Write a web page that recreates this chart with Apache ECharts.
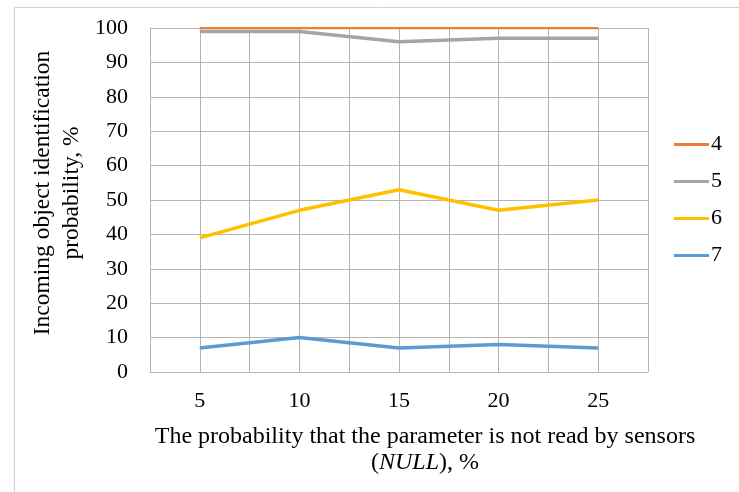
<!DOCTYPE html>
<html>
<head>
<meta charset="utf-8">
<script src="https://cdn.jsdelivr.net/npm/echarts@6/dist/echarts.min.js"></script>
<style>html,body{margin:0;padding:0;background:#fff}#c{width:739px;height:492px}</style>
</head>
<body>
<div id="c"></div>
<script>
var categories = [5, 10, 15, 20, 25];
var seriesNames = ['4', '5', '6', '7'];
var s4 = [100, 100, 100, 100, 100];
var s5 = [99, 99, 96, 97, 97];
var s6 = [39, 47, 53, 47, 50];
var s7 = [7, 10, 7, 8, 7];
var yTicks = [0, 10, 20, 30, 40, 50, 60, 70, 80, 90, 100];

var FONT = "'Liberation Serif', 'Times New Roman', serif";
var colors = ['#ED7D31', '#A5A5A5', '#FFC000', '#5B9BD5'];
var widths = [2.25, 3.5, 3.5, 3.5];
var allVals = [s4, s5, s6, s7];

function pairs(vals) { return categories.map(function (c, i) { return [c, vals[i]]; }); }

var chart = echarts.init(document.getElementById('c'), null, { renderer: 'canvas' });
var gridColor = '#b4b4b4';
chart.setOption({
  animation: false,
  backgroundColor: '#fff',
  grid: { left: 150, right: 91, top: 28, bottom: 120, containLabel: false },
  xAxis: {
    type: 'value', min: 2.5, max: 27.5, interval: 2.5,
    axisLine: { show: true, lineStyle: { color: gridColor, width: 1 } },
    axisTick: { show: false },
    splitLine: { show: true, lineStyle: { color: gridColor, width: 1 } },
    axisLabel: {
      margin: 18, color: '#000', fontFamily: FONT, fontSize: 22,
      formatter: function (v) { return categories.indexOf(v) >= 0 ? String(v) : ''; }
    }
  },
  yAxis: {
    type: 'value', min: yTicks[0], max: yTicks[yTicks.length - 1], interval: 10,
    axisLine: { show: true, lineStyle: { color: gridColor, width: 1 } },
    axisTick: { show: false },
    splitLine: { show: true, lineStyle: { color: gridColor, width: 1 } },
    axisLabel: { margin: 22, color: '#000', fontFamily: FONT, fontSize: 22 }
  },
  legend: {
    orient: 'vertical', left: 669, top: 127, itemWidth: 35, itemHeight: 3, itemGap: 12,
    icon: 'rect',
    textStyle: { color: '#000', fontFamily: FONT, fontSize: 22, padding: [0, 0, 0, -3], lineHeight: 25 },
    data: seriesNames
  },
  series: seriesNames.map(function (n, i) {
    return {
      name: n, type: 'line', data: pairs(allVals[i]), symbol: 'none',
      lineStyle: { color: colors[i], width: widths[i] },
      itemStyle: { color: colors[i] },
      z: 10 - i
    };
  }),
  graphic: [
    { type: 'rect', left: 12, top: 5, shape: { width: 760, height: 520 }, style: { fill: 'none', stroke: '#d0d0d0', lineWidth: 1 }, silent: true },
    {
      type: 'text', x: 57, y: 193, rotation: Math.PI / 2,
      style: {
        text: 'Incoming object identification\nprobability, %',
        font: "23.5px " + FONT, fill: '#000', align: 'center', verticalAlign: 'middle', lineHeight: 29
      }
    },
    {
      type: 'text', x: 425, y: 450,
      style: {
        text: 'The probability that the parameter is not read by sensors\n({i|NULL}), %',
        font: "24px " + FONT, fill: '#000', align: 'center', verticalAlign: 'middle', lineHeight: 26,
        rich: { i: { fontStyle: 'italic', fontFamily: FONT, fontSize: 24 } }
      }
    }
  ]
});
</script>
</body>
</html>
